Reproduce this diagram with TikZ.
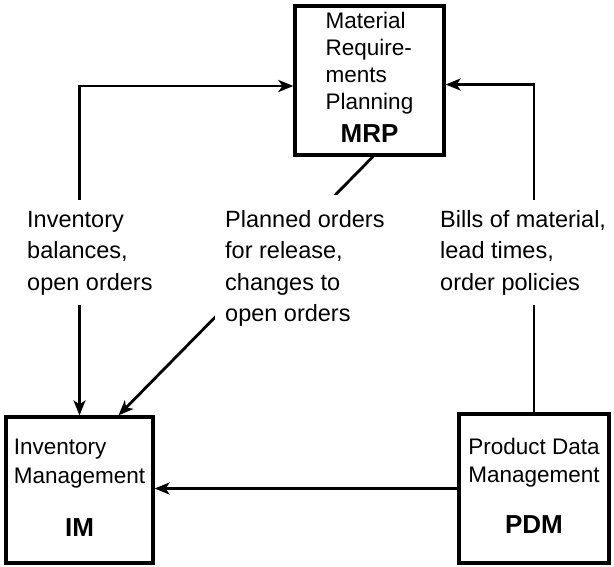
\documentclass[tikz,border=0pt]{standalone}
\usepackage{fontspec}
\setmainfont{Liberation Sans}
\usetikzlibrary{arrows.meta}
\begin{document}
\begin{tikzpicture}[x=1pt,y=-1pt,
  box/.style={draw=black, line width=3.2pt, fill=white, inner sep=0pt,
    font=\fontsize{22.5}{27}\selectfont},
  conn/.style={draw=black, line width=2.8pt},
  tip/.style={-{Stealth[length=15pt,width=12pt,inset=4pt]}},
  lbl/.style={fill=white, inner ysep=5pt, inner xsep=4pt,
    font=\fontsize{23.5}{31.5}\selectfont}]
\useasboundingbox (0,0) rectangle (614,566);
% boxes
\node[box, minimum width=149pt, minimum height=149pt] (MRP) at (369.5,80.5)
  {\begin{tabular}{@{}l@{}}Material\\Require-\\ments\\Planning\\[6pt]
   \multicolumn{1}{@{}c@{}}{\fontsize{26}{27}\selectfont\bfseries MRP}\end{tabular}};
\node[box, minimum width=147pt, minimum height=146pt,
  font=\fontsize{22.5}{29}\selectfont] (IM) at (79.5,490)
  {\begin{tabular}{@{}l@{}}Inventory\\Management\\[24pt]
   \multicolumn{1}{@{}c@{}}{\fontsize{26}{27}\selectfont\bfseries IM}\end{tabular}};
\node[box, minimum width=150pt, minimum height=149pt,
  font=\fontsize{22.5}{28}\selectfont] (PDM) at (534,488.5)
  {\begin{tabular}{@{}l@{}}Product Data\\Management\\[23pt]
   \multicolumn{1}{@{}c@{}}{\fontsize{26}{27}\selectfont\bfseries PDM}\end{tabular}};
% connectors
\draw[conn, {Stealth[length=15pt,width=12pt,inset=4pt]}-{Stealth[length=15pt,width=12pt,inset=4pt]}]
  (IM.north) |- ([yshift=-5.5pt]MRP.west);
\draw[conn, tip] (PDM.north) |- ([yshift=-4pt]MRP.east);
\draw[conn, tip] ([xshift=3.5pt]MRP.south) -- ([xshift=39pt]IM.north);
\draw[conn, tip] (PDM.west) -- (PDM.west -| IM.east);
% labels
\node[lbl, anchor=north west] (lblIM) at (23,200)
  {\begin{tabular}{@{}l@{}}Inventory\\balances,\\open orders\end{tabular}};
\node[lbl, anchor=north west, inner xsep=10pt, inner ysep=10pt] (lblPO) at (215,195)
  {\begin{tabular}{@{}l@{}}Planned orders\\for release,\\changes to\\open orders\end{tabular}};
\node[lbl, anchor=north west, inner xsep=3pt] (lblBOM) at (437,200)
  {\begin{tabular}{@{}l@{}}Bills of material,\\lead times,\\order policies\end{tabular}};
\end{tikzpicture}
\end{document}
